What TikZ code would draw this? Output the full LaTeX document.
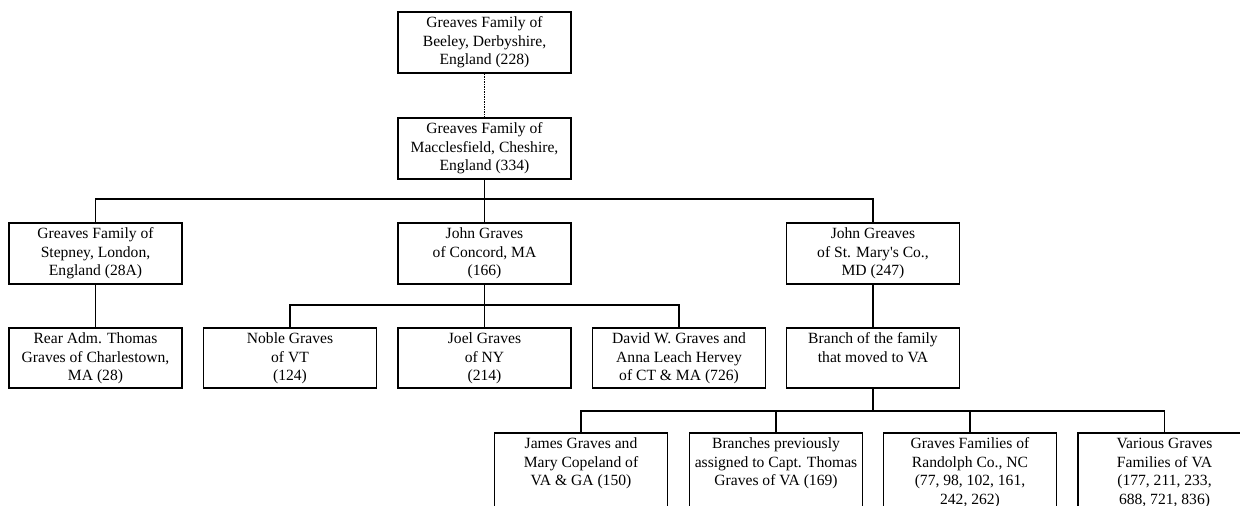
\documentclass[tikz,border=0pt]{standalone}
\usepackage{fontspec}
\setmainfont{Liberation Serif}
\newcommand{\bxt}[2]{\parbox[c][#1][t]{173pt}{\centering\vspace*{3pt}\strut #2\par}}
\begin{document}
\begin{tikzpicture}[x=1pt,y=-1pt,
  famtree/.style={draw, line width=1.9pt, inner sep=0pt, anchor=north, font=\fontsize{15.6}{18.4}\selectfont},
  link/.style={line width=1.6pt},
  dotlink/.style={line width=1.6pt, dash pattern=on 1.5pt off 1pt}]
\useasboundingbox (0,0) rectangle (1240,506);
\clip (0,0) rectangle (1240,506);
% level 0 and 1
\node[famtree] (beeley) at (484.5,11) {\bxt{61pt}{Greaves Family of\\Beeley, Derbyshire,\\England (228)}};
\node[famtree] (mac) at (484.5,117) {\bxt{61pt}{Greaves Family of\\Macclesfield, Cheshire,\\England (334)}};
% level 2
\node[famtree] (stepney) at (95.5,222) {\bxt{61pt}{Greaves Family of\\Stepney, London,\\England (28A)}};
\node[famtree] (concord) at (484.5,222) {\bxt{61pt}{John Graves\\of Concord, MA\\(166)}};
\node[famtree] (stmary) at (873,222) {\bxt{61pt}{John Greaves\\of St. Mary\textquotesingle s Co.,\\MD (247)}};
% level 3
\node[famtree] (rear) at (95.5,327) {\bxt{60pt}{Rear Adm. Thomas\\Graves of Charlestown,\\MA (28)}};
\node[famtree] (noble) at (290,327) {\bxt{60pt}{Noble Graves\\of VT\\(124)}};
\node[famtree] (joel) at (484.5,327) {\bxt{60pt}{Joel Graves\\of NY\\(214)}};
\node[famtree] (david) at (679,327) {\bxt{60pt}{David W. Graves and\\Anna Leach Hervey\\of CT \& MA (726)}};
\node[famtree] (branch) at (873,327) {\bxt{60pt}{Branch of the family\\that moved to VA}};
% level 4
\node[famtree] (james) at (581,432) {\bxt{82pt}{James Graves and\\Mary Copeland of\\VA \& GA (150)}};
\node[famtree] (branches) at (776,432) {\bxt{82pt}{Branches previously\\assigned to Capt. Thomas\\Graves of VA (169)}};
\node[famtree] (randolph) at (970,432) {\bxt{82pt}{Graves Families of\\Randolph Co., NC\\(77, 98, 102, 161,\\242, 262)}};
\node[famtree] (various) at (1164.5,432) {\bxt{82pt}{Various Graves\\Families of VA\\(177, 211, 233,\\688, 721, 836)}};
% junction points
\coordinate (b1) at (484.5,199);
\coordinate (b2) at (484.5,305);
\coordinate (b3) at (873,411);
% connectors
\draw[dotlink] (beeley.south) -- (mac.north);
\draw[link] (mac.south) -- (b1);
\draw[link] (stepney.north) |- (b1) -| (stmary.north);
\draw[link] (b1) -- (concord.north);
\draw[link] (stepney.south) -- (rear.north);
\draw[link] (concord.south) -- (b2);
\draw[link] (noble.north) |- (b2) -| (david.north);
\draw[link] (b2) -- (joel.north);
\draw[link] (stmary.south) -- (branch.north);
\draw[link] (branch.south) -- (b3);
\draw[link] (james.north) |- (b3) -| (various.north);
\draw[link] (branches.north) -- (branches.north |- b3);
\draw[link] (randolph.north) -- (randolph.north |- b3);
\end{tikzpicture}
\end{document}
